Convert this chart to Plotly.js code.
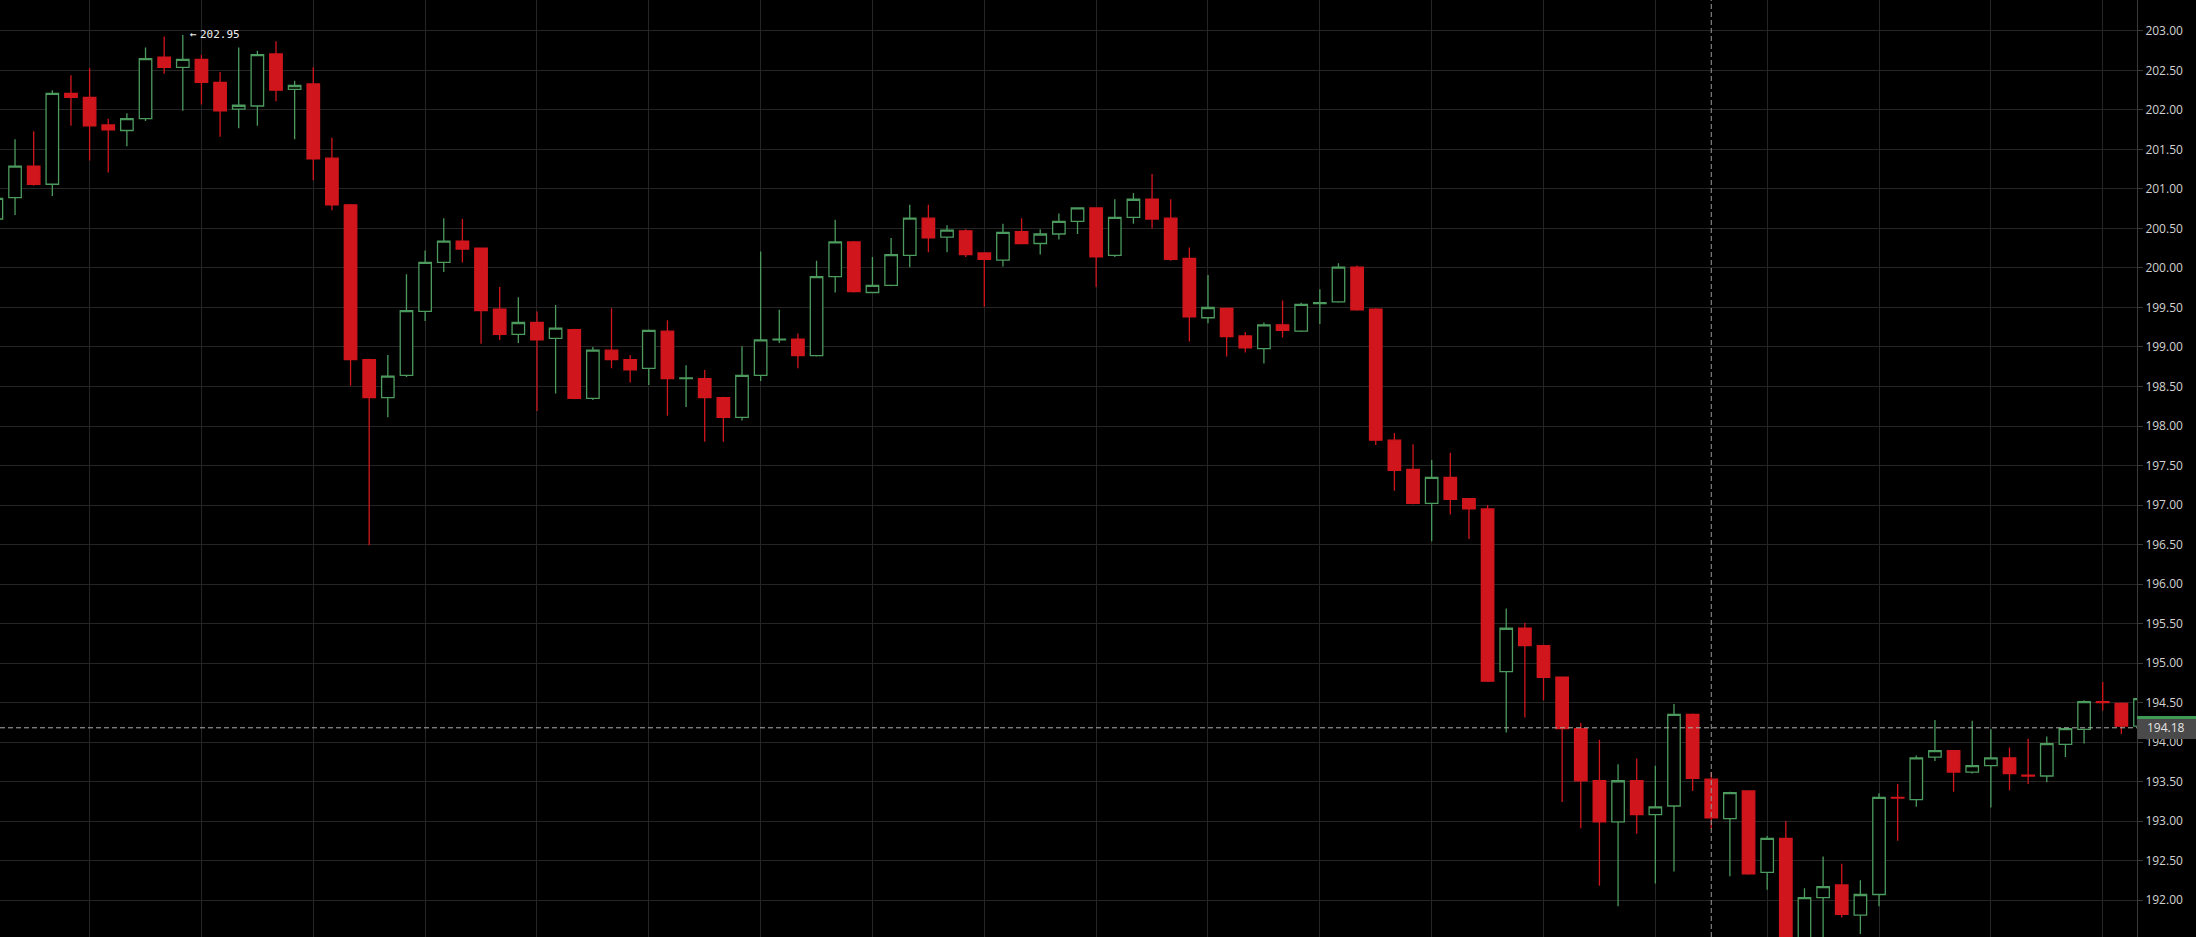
<!DOCTYPE html>
<html>
<head>
<meta charset="utf-8">
<script src="https://cdn.plot.ly/plotly-3.0.1.min.js"></script>
<style>
html,body{margin:0;padding:0;background:#000;overflow:hidden;}
#chart{width:2196px;height:937px;}
</style>
</head>
<body>
<div id="chart"></div>
<script>
// candle index (bar number)
const idx = Array.from({length:116}, (_, i) => i);

const openP = [
200.62,200.89,201.29,201.06,202.21,202.16,201.81,201.74,201.89,202.67,
202.54,202.64,202.35,202.01,202.05,202.71,202.26,202.33,201.39,200.80,
198.84,198.36,198.64,199.45,200.07,200.34,200.25,199.48,199.16,199.31,
199.11,199.22,198.35,198.96,198.84,198.73,199.20,198.60,198.60,198.36,
198.11,198.64,199.09,199.10,198.89,199.89,200.33,199.69,199.78,200.16,
200.63,200.39,200.47,200.19,200.10,200.46,200.31,200.43,200.59,200.76,
200.16,200.64,200.87,200.63,200.12,199.37,199.49,199.14,198.98,199.28,
199.20,199.55,199.57,200.01,199.48,197.82,197.45,197.02,197.35,197.08,
196.95,194.89,195.44,195.22,194.82,194.17,193.51,192.99,193.51,193.08,
193.19,194.35,193.53,193.03,193.38,192.35,192.78,191.35,192.03,192.19,
191.81,192.07,193.30,193.27,193.81,193.89,193.62,193.70,193.80,193.58,
193.57,193.97,194.16,194.51,194.49,194.20];

const highP = [
201.02,201.63,201.73,202.25,202.44,202.53,201.89,201.96,202.79,202.93,
202.95,202.70,202.48,202.79,202.75,202.87,202.37,202.54,201.65,200.81,
198.85,198.90,199.92,200.22,200.63,200.62,200.26,199.76,199.63,199.45,
199.53,199.23,199.00,199.49,198.90,199.22,199.34,198.77,198.71,198.37,
199.01,200.21,199.47,199.17,200.09,200.61,200.34,200.14,200.38,200.80,
200.80,200.54,200.49,200.19,200.56,200.63,200.49,200.69,200.77,200.77,
200.87,200.95,201.19,200.87,200.26,199.91,199.50,199.19,199.31,199.59,
199.56,199.73,200.06,200.03,199.49,197.91,197.77,197.57,197.66,197.09,
197.00,195.69,195.51,195.23,194.83,194.24,194.03,193.72,193.79,193.70,
194.48,194.36,193.62,193.37,193.39,192.81,193.00,192.15,192.55,192.46,
192.25,193.35,193.47,193.83,194.28,193.90,194.27,194.16,193.93,194.04,
194.07,194.18,194.53,194.76,194.50,194.58];

const lowP = [
200.45,200.67,201.04,200.91,201.80,201.36,201.21,201.54,201.86,202.46,
201.99,202.07,201.66,201.77,201.80,202.11,201.63,201.11,200.73,198.51,
196.49,198.11,198.62,199.33,199.95,200.07,199.04,199.09,199.05,198.19,
198.41,198.34,198.33,198.73,198.55,198.52,198.13,198.24,197.80,197.80,
198.07,198.57,199.05,198.73,198.88,199.69,199.69,199.68,199.77,200.01,
200.20,200.20,200.14,199.51,200.02,200.30,200.17,200.36,200.43,199.76,
200.14,200.56,200.50,200.09,199.07,199.30,198.88,198.93,198.79,199.12,
199.19,199.29,199.56,199.46,197.76,197.18,197.01,196.54,196.88,196.57,
194.76,194.12,194.31,194.53,193.24,192.91,192.18,191.92,192.84,192.21,
192.36,193.38,192.90,192.30,192.32,192.13,191.20,191.25,191.40,191.78,
191.57,191.92,192.75,193.18,193.76,193.37,193.60,193.17,193.39,193.47,
193.49,193.81,193.98,194.40,194.10,194.15];

const closeP = [
200.88,201.29,201.06,202.21,202.16,201.80,201.75,201.89,202.65,202.54,
202.64,202.35,201.99,202.06,202.70,202.25,202.31,201.38,200.80,198.84,
198.36,198.63,199.46,200.07,200.34,200.24,199.46,199.16,199.31,199.09,
199.24,198.35,198.96,198.84,198.71,199.21,198.60,198.61,198.36,198.11,
198.64,199.09,199.10,198.89,199.89,200.33,199.70,199.78,200.17,200.63,
200.38,200.48,200.17,200.11,200.45,200.31,200.43,200.59,200.76,200.14,
200.64,200.87,200.62,200.11,199.38,199.50,199.13,198.99,199.28,199.21,
199.54,199.56,200.01,199.47,197.82,197.44,197.02,197.35,197.07,196.95,
194.77,195.44,195.22,194.82,194.17,193.51,192.99,193.51,193.08,193.18,
194.35,193.54,193.04,193.36,192.33,192.78,191.35,192.03,192.17,191.82,
192.07,193.30,193.29,193.80,193.89,193.62,193.70,193.80,193.60,193.57,
193.98,194.17,194.51,194.50,194.20,194.55];

const yTickStep = 0.5;
const highestHigh = 202.95;
const highestIdx = 10;
const crossIdx = 92;
const crossPrice = 194.18;
const lastPrice = 194.21;

const GREEN = '#4c9a5e';
const RED = '#d0161c';
const GRID = '#252525';

const trace = {
  type: 'candlestick',
  x: idx, open: openP, high: highP, low: lowP, close: closeP,
  increasing: {line: {color: GREEN, width: 1.3}, fillcolor: '#000000'},
  decreasing: {line: {color: RED, width: 1.3}, fillcolor: RED},
  whiskerwidth: 0,
  hoverinfo: 'skip'
};

const layout = {
  width: 2196, height: 937,
  margin: {l: 0, r: 59, t: 0, b: 0, pad: 0},
  paper_bgcolor: '#000000', plot_bgcolor: '#000000',
  showlegend: false,
  boxgap: 0.33, boxgroupgap: 0,
  xaxis: {
    type: 'linear', range: [0.193, 114.84],
    showgrid: true, gridcolor: GRID, gridwidth: 1,
    tick0: 5, dtick: 6, showticklabels: false, ticks: '',
    zeroline: false, showline: false,
    rangeslider: {visible: false}, fixedrange: true
  },
  yaxis: {
    side: 'right', range: [191.532, 203.392],
    tick0: 0, dtick: yTickStep, tickformat: '.2f',
    showgrid: true, gridcolor: GRID, gridwidth: 1,
    showline: true, linecolor: '#3a3a3a', linewidth: 1,
    ticks: 'outside', ticklen: 5, tickcolor: '#3a3a3a', tickwidth: 1,
    tickfont: {family: 'Open Sans', size: 12, color: '#d2d2d2'},
    zeroline: false, fixedrange: true
  },
  shapes: [
    {type: 'line', xref: 'x', yref: 'paper', x0: crossIdx, x1: crossIdx, y0: 0, y1: 1,
     line: {color: '#9a9a9a', width: 1, dash: '5px,3px'}, layer: 'above'},
    {type: 'line', xref: 'paper', yref: 'y', x0: 0, x1: 1, y0: crossPrice, y1: crossPrice,
     line: {color: '#a9b3a9', width: 1, dash: '5px,3px'}, layer: 'above'},
    {type: 'rect', xref: 'paper', yref: 'y', x0: 1, x1: 1.03, y0: lastPrice - 0.13, y1: lastPrice + 0.12,
     fillcolor: '#3f9a55', line: {width: 0}, layer: 'above'},
    {type: 'rect', xref: 'paper', yref: 'y', x0: 1, x1: 1.03, y0: crossPrice - 0.142, y1: crossPrice + 0.11,
     fillcolor: '#4a4a4a', line: {width: 0}, layer: 'above'}
  ],
  annotations: [
    {x: highestIdx, y: highestHigh, xref: 'x', yref: 'y', xanchor: 'left', yanchor: 'middle',
     xshift: 5, showarrow: false, text: '\u2190',
     font: {family: 'DejaVu Sans Mono', size: 11, color: '#f0f0f0'}},
    {x: highestIdx, y: highestHigh, xref: 'x', yref: 'y', xanchor: 'left', yanchor: 'middle',
     xshift: 15.5, showarrow: false, text: highestHigh.toFixed(2),
     font: {family: 'DejaVu Sans Mono', size: 11, color: '#f0f0f0'}},
    {x: 1, y: crossPrice, xref: 'paper', yref: 'y', xanchor: 'left', yanchor: 'middle',
     xshift: 8, showarrow: false, text: crossPrice.toFixed(2),
     font: {family: 'Open Sans', size: 12, color: '#e4e4e4'}}
  ]
};

Plotly.newPlot('chart', [trace], layout, {displayModeBar: false, staticPlot: true});
</script>
</body>
</html>
